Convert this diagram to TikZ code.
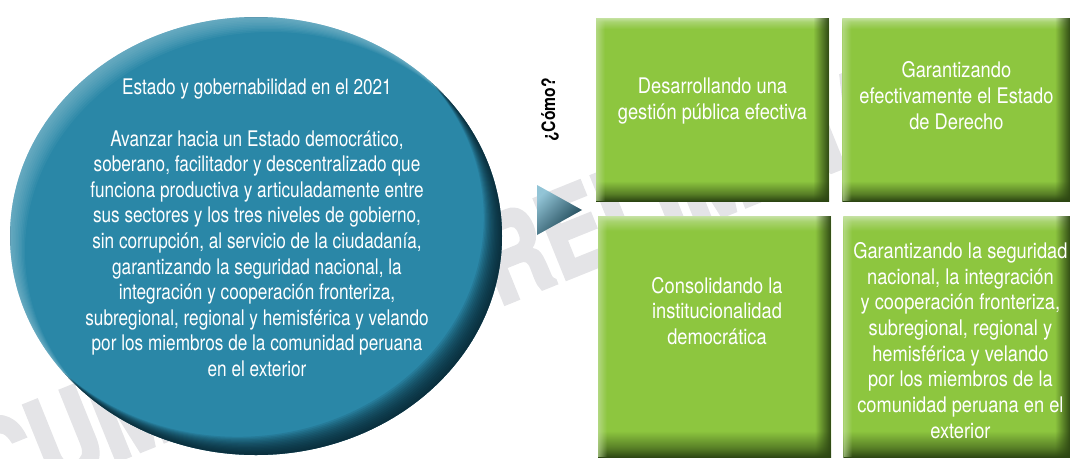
\documentclass[tikz,border=0pt]{standalone}
\usepackage{fontspec}
\setmainfont{TeX Gyre Heros}
\newfontfamily\ovalfont{TeX Gyre Heros}[FakeStretch=0.80]
\newfontfamily\boxfont{TeX Gyre Heros}[FakeStretch=0.85]
\newfontfamily\markfont{TeX Gyre Heros}[FakeStretch=0.78, FakeBold=3]
\definecolor{tealbase}{HTML}{2A87A7}
\definecolor{tealdark}{HTML}{06202A}
\definecolor{teallight}{HTML}{A2CEDC}
\definecolor{trilight}{HTML}{92C4D6}
\definecolor{tridark}{HTML}{143C4B}
\definecolor{greenbase}{HTML}{8DC63F}
\definecolor{greendark}{HTML}{2C4512}
\definecolor{greenlight}{HTML}{C4E1A0}
\definecolor{markgray}{HTML}{E4E4E7}
\usetikzlibrary{positioning, calc, shapes.geometric, fadings}

% the visible part of a shading/fading is 25bp..75bp
\pgfdeclareverticalshading{greenbevel}{100bp}{color(0bp)=(greendark); color(25bp)=(greendark); color(27bp)=(greendark!55!greenbase); color(30.5bp)=(greenbase); color(72bp)=(greenbase); color(74bp)=(greenbase!50!greenlight); color(75bp)=(greenlight); color(100bp)=(greenlight)}
\pgfdeclarehorizontalshading{rightrimmask}{100bp}{color(0bp)=(black); color(71.5bp)=(black); color(75bp)=(white); color(100bp)=(white)}
\pgfdeclarefading{rightrim}{\pgfuseshading{rightrimmask}}
\pgfdeclarehorizontalshading{leftrimmask}{100bp}{color(0bp)=(white); color(25bp)=(white); color(27bp)=(black); color(100bp)=(black)}
\pgfdeclarefading{leftrim}{\pgfuseshading{leftrimmask}}

\tikzset{
	oval/.style={
			ellipse,
			inner sep=0pt,
			minimum width=492pt,
			minimum height=438pt,
			fill=tealbase,
			path picture={
					\foreach \k in {1,...,14}
					\fill[tealdark, opacity=0.11, even odd rule]
					(path picture bounding box.south west) rectangle (path picture bounding box.north east)
					([xshift=-\k*1.3pt, yshift=\k*1.3pt]path picture bounding box.center) ellipse [x radius=246pt, y radius=219pt];
					\foreach \k in {1,...,10}
					\fill[teallight, opacity=0.07, even odd rule]
					(path picture bounding box.south west) rectangle (path picture bounding box.north east)
					([xshift=\k*1.5pt, yshift=-\k*1.5pt]path picture bounding box.center) ellipse [x radius=246pt, y radius=219pt];
				}
		},
	ovaltext/.style={
			text=white,
			align=center,
			font=\ovalfont\fontsize{21.5}{25.6}\selectfont
		},
	greenbox/.style={
			rectangle,
			inner sep=0pt,
			minimum height=183pt,
			shade,
			shading=greenbevel,
			path picture={
					\fill[greendark, path fading=rightrim] (path picture bounding box.south west) rectangle (path picture bounding box.north east);
					\fill[greenlight, opacity=0.7, path fading=leftrim] (path picture bounding box.south west) rectangle (path picture bounding box.north east);
				}
		},
	boxtext/.style={
			text=white,
			align=center,
			font=\boxfont\fontsize{21.5}{25.7}\selectfont
		},
	marktext/.style={
			text=markgray,
			font=\markfont\bfseries\fontsize{118}{118}\selectfont
		}
}

\begin{document}
\begin{tikzpicture}[x=1pt, y=-1pt]
\useasboundingbox (0,0) rectangle (1070,458);

% watermark
\node[marktext, rotate=22] (mark) at (400,300) {DOCUMENTO PRELIMINAR};

\node[oval] (vision) at (256,236) {};
\node[ovaltext] (vtext) at (257,228) {Estado y gobernabilidad en el 2021\\[25.6pt]
Avanzar hacia un Estado democrático,\\
soberano, facilitador y descentralizado que\\
funciona productiva y articuladamente entre\\
sus sectores y los tres niveles de gobierno,\\
sin corrupción, al servicio de la ciudadanía,\\
garantizando la seguridad nacional, la\\
integración y cooperación fronteriza,\\
subregional, regional y hemisférica y velando\\
por los miembros de la comunidad peruana\\
en el exterior};

\node[rotate=90, font=\boxfont\bfseries\fontsize{18.5}{18.5}\selectfont] (como) at (550,110) {¿Cómo?};

\coordinate (p1) at (537,185);
\coordinate (p2) at (582,210);
\coordinate (p3) at (537,235);
\shade[top color=trilight, bottom color=tridark, shading angle=45] (p1) -- (p2) -- (p3) -- cycle;

\node[greenbox, minimum width=233pt] (g1) at (712.5,109.5) {};
\node[greenbox, minimum width=228pt, right=13pt of g1] (g2) {};
\node[greenbox, minimum width=233pt, minimum height=241pt, below=15pt of g1, xshift=2pt] (g3) {};
\node[greenbox, minimum width=227pt, minimum height=241pt, below=15pt of g2, xshift=0.5pt] (g4) {};

\node[boxtext] (t1) at ([yshift=8.5pt]g1.center) {Desarrollando una\\gestión pública efectiva};
\node[boxtext] (t2) at ([yshift=14pt]g2.center) {Garantizando\\efectivamente el Estado\\de Derecho};
\node[boxtext] (t3) at ([xshift=2.5pt, yshift=26pt]g3.center) {Consolidando la\\institucionalidad\\democrática};
\node[boxtext] (t4) at ([xshift=3.5pt, yshift=-3.5pt]g4.center) {Garantizando la seguridad\\nacional, la integración\\y cooperación fronteriza,\\subregional, regional y\\hemisférica y velando\\por los miembros de la\\comunidad peruana en el\\exterior};
\end{tikzpicture}
\end{document}
